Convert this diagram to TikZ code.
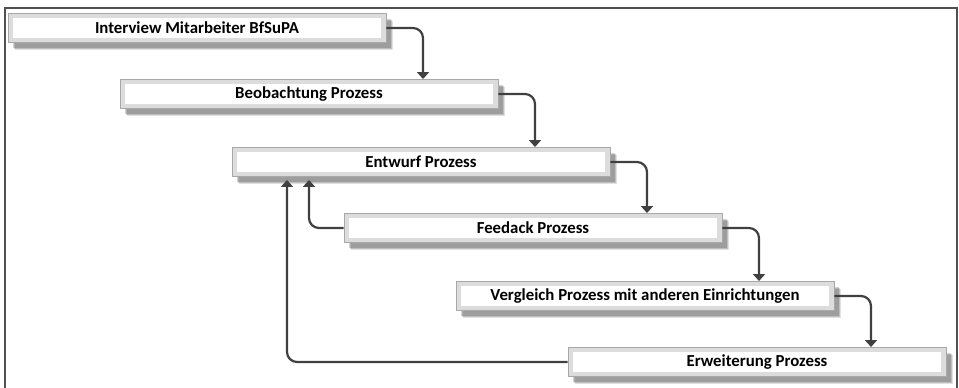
\documentclass[tikz,border=0pt]{standalone}
\usepackage{fontspec}
\setmainfont{Carlito}
\usetikzlibrary{arrows.meta,shadows,calc}
\definecolor{conn}{HTML}{404040}
\definecolor{frame}{HTML}{505050}
\definecolor{band}{HTML}{DCDCDC}
\definecolor{edge}{HTML}{A8A8A8}
\tikzset{
  stepbox/.style={
    minimum width=378pt, minimum height=29pt, inner sep=0pt,
    fill=band, draw=edge, line width=0.9pt,
    font=\bfseries\fontsize{16.8}{18}\selectfont, text=black,
    general shadow={fill=black, opacity=0.12, shadow xshift=7pt, shadow yshift=-7pt},
    general shadow={fill=black, opacity=0.15, shadow xshift=6pt, shadow yshift=-6pt},
    general shadow={fill=black, opacity=0.18, shadow xshift=5pt, shadow yshift=-5pt},
    path picture={\fill[white] ([shift={(5pt,-4pt)}]path picture bounding box.north west) rectangle ([shift={(-5pt,5pt)}]path picture bounding box.south east);}
  },
  conn/.style={draw=conn, line width=2.2pt, rounded corners=10pt, -{Triangle[width=12pt,length=7pt]}}
}
\begin{document}
\begin{tikzpicture}[x=1pt,y=-1pt]
\useasboundingbox (0,0) rectangle (959,388);
\draw[frame, line width=2pt] (4.5,388) -- (4.5,7.5) -- (956.5,7.5) -- (956.5,388);
\node[stepbox] (b1) at (197,28) {Interview Mitarbeiter BfSuPA};
\node[stepbox] (b2) at (309,94) {Beobachtung Prozess};
\node[stepbox] (b3) at (421,162) {Entwurf Prozess};
\node[stepbox] (b4) at (533,228) {Feedack Prozess};
\node[stepbox] (b5) at (645,296) {Vergleich Prozess mit anderen Einrichtungen};
\node[stepbox] (b6) at (757,362) {Erweiterung Prozess};
\draw[conn] (b1.east) -| ([xshift=114pt]b2.north);
\draw[conn] (b2.east) -| ([xshift=114pt]b3.north);
\draw[conn] (b3.east) -| ([xshift=114pt]b4.north);
\draw[conn] (b4.east) -| ([xshift=114pt]b5.north);
\draw[conn] (b5.east) -| ([xshift=114pt]b6.north);
\draw[conn] (b4.west) -| ([xshift=-112pt,yshift=-3pt]b3.south);
\draw[conn] (b6.west) -| ([xshift=-134pt,yshift=-3pt]b3.south);
\end{tikzpicture}
\end{document}
